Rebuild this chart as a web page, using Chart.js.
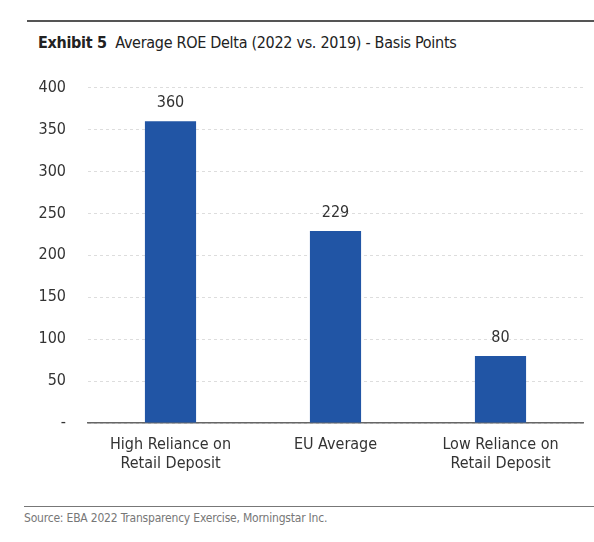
<!DOCTYPE html>
<html><head><meta charset="utf-8">
<script src="https://cdn.jsdelivr.net/npm/chart.js@4"></script>
<style>
body{margin:0;background:#fff;font-family:"DejaVu Sans Condensed","Roboto",sans-serif;}
#top{position:absolute;left:27px;top:20px;width:567px;height:0;border-top:2px solid #555;z-index:5;}
#title{position:absolute;left:38px;top:33px;font-size:16px;color:#222;letter-spacing:-0.3px;}
#title b{font-weight:bold;}
#wrap{position:absolute;left:0;top:56px;width:594px;height:444px;}
#bot{position:absolute;left:24px;top:506px;width:570px;height:0;border-top:1px solid #777;}
#src{position:absolute;left:24px;top:511px;font-size:12px;color:#777;letter-spacing:-0.2px;}
</style></head><body>
<div id="top"></div>
<div id="title"><b>Exhibit 5</b>&nbsp; Average ROE Delta (2022 vs. 2019) - Basis Points</div>
<div id="wrap"><canvas id="c"></canvas></div>
<div id="bot"></div>
<div id="src">Source: EBA 2022 Transparency Exercise, Morningstar Inc.</div>
<script>
const categories = [['High Reliance on','Retail Deposit'], 'EU Average', ['Low Reliance on','Retail Deposit']];
const values = [360, 229, 80];
const yTicks = [0, 50, 100, 150, 200, 250, 300, 350, 400];
const font = '"DejaVu Sans Condensed", Roboto, sans-serif';

const valueLabels = {
    id: 'valueLabels',
    afterDatasetsDraw(chart) {
        const ctx = chart.ctx;
        const meta = chart.getDatasetMeta(0);
        ctx.save();
        ctx.font = '16px ' + font;
        ctx.fillStyle = '#333';
        ctx.textAlign = 'center';
        ctx.textBaseline = 'bottom';
        meta.data.forEach((bar, i) => ctx.fillText(values[i], bar.x, bar.y - 10));
        ctx.restore();
    }
};

new Chart(document.getElementById('c'), {
    type: 'bar',
    data: {
        labels: categories,
        datasets: [{ data: values, backgroundColor: '#2155a5', barPercentage: 0.31, categoryPercentage: 1 }]
    },
    options: {
        responsive: true, maintainAspectRatio: false, animation: false,
        layout: { padding: { top: 0, right: 11 } },
        plugins: { legend: { display: false }, tooltip: { enabled: false } },
        scales: {
            x: {
                grid: { display: false, drawTicks: false },
                border: { color: '#666', width: 1.5 },
                ticks: { color: '#333', font: { family: font, size: 16 }, padding: 12 },
                afterFit(s) { s.height = 77; }
            },
            y: {
                min: 0, max: 400,
                afterBuildTicks(s) { s.ticks = yTicks.map(v => ({ value: v })); },
                grid: { color: '#ddd', drawTicks: false },
                border: { display: false, dash: [3, 3] },
                ticks: {
                    color: '#333', font: { family: font, size: 16 }, padding: 22,
                    callback: v => v === 0 ? '-' : v
                },
                afterFit(s) { s.width = 88; }
            }
        }
    },
    plugins: [valueLabels]
});
</script>
</body></html>
